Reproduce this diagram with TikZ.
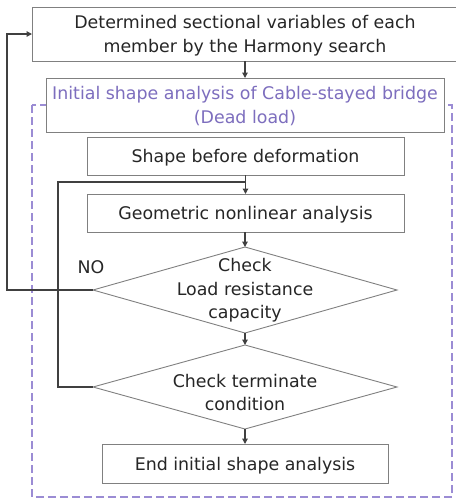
\documentclass[tikz,border=0pt]{standalone}
\usepackage{fontspec}
\setmainfont{DejaVu Sans}
\usetikzlibrary{shapes.geometric,arrows.meta}
\definecolor{txt}{HTML}{262626}
\definecolor{purp}{RGB}{125,110,190}
\definecolor{dashc}{RGB}{155,140,212}
\definecolor{boxc}{HTML}{808080}
\definecolor{linec}{HTML}{404040}
\begin{document}
\begin{tikzpicture}[x=1pt,y=-1pt,
  lbl/.style={font=\fontsize{17.4}{23.5}\selectfont, text=txt, align=center, inner sep=0},
  box/.style={lbl, draw=boxc, line width=0.9pt, fill=white, outer sep=0, text depth=0pt},
  dia/.style={diamond, draw=boxc, line width=0.9pt, fill=white, inner sep=0, outer sep=0, minimum width=304pt},
  conn/.style={draw=linec, line width=1.2pt},
  arr/.style={conn, -{Triangle[length=5.5pt,width=5.5pt]}}]
\useasboundingbox (0,0) rectangle (456,499);
\clip (0,0) rectangle (456,499);
% dashed region
\draw[dashc, line width=1.5pt, dash pattern=on 8pt off 4pt] (32,105) rectangle (452,497);
% nodes
\node[box, minimum width=426pt, minimum height=54pt] (top) at (245,34)
  {Determined sectional variables of each\\member by the Harmony search};
\node[box, text=purp, minimum width=398pt, minimum height=54pt] (ini) at (245,105)
  {Initial shape analysis of Cable-stayed bridge\\(Dead load)};
\node[box, minimum width=317pt, minimum height=38pt] (shp) at (245.5,156) {Shape before deformation};
\node[box, minimum width=317pt, minimum height=38pt] (geo) at (245.5,213) {Geometric nonlinear analysis};
\node[dia, minimum height=86pt] (d1) at (245,290) {};
\node[lbl] (d1t) at (245,290.5) {Check\\Load resistance\\capacity};
\node[dia, minimum height=84pt] (d2) at (245,387) {};
\node[lbl] (d2t) at (245,392.5) {Check terminate\\condition};
\node[box, minimum width=286pt, minimum height=39pt] (end) at (245,463.5) {End initial shape analysis};
\node[lbl] (no) at (91,267.5) {NO};
% connectors
\coordinate (lx) at (7,0);
\coordinate (l2x) at (58,0);
\coordinate (j) at (245.5,182);
\draw[arr] (top.south -| ini.north) -- (ini.north);
\draw[arr] (shp.south) -- (geo.north);
\draw[arr] (geo.south -| d1.north) -- (d1.north);
\draw[arr] (d1.south) -- (d2.north);
\draw[arr] (d2.south) -- (end.north);
\draw[arr] (d1.west) -- (d1.west -| lx) |- (top.west);
\draw[conn] (d2.west) -- (d2.west -| l2x) |- (j);
\end{tikzpicture}
\end{document}
